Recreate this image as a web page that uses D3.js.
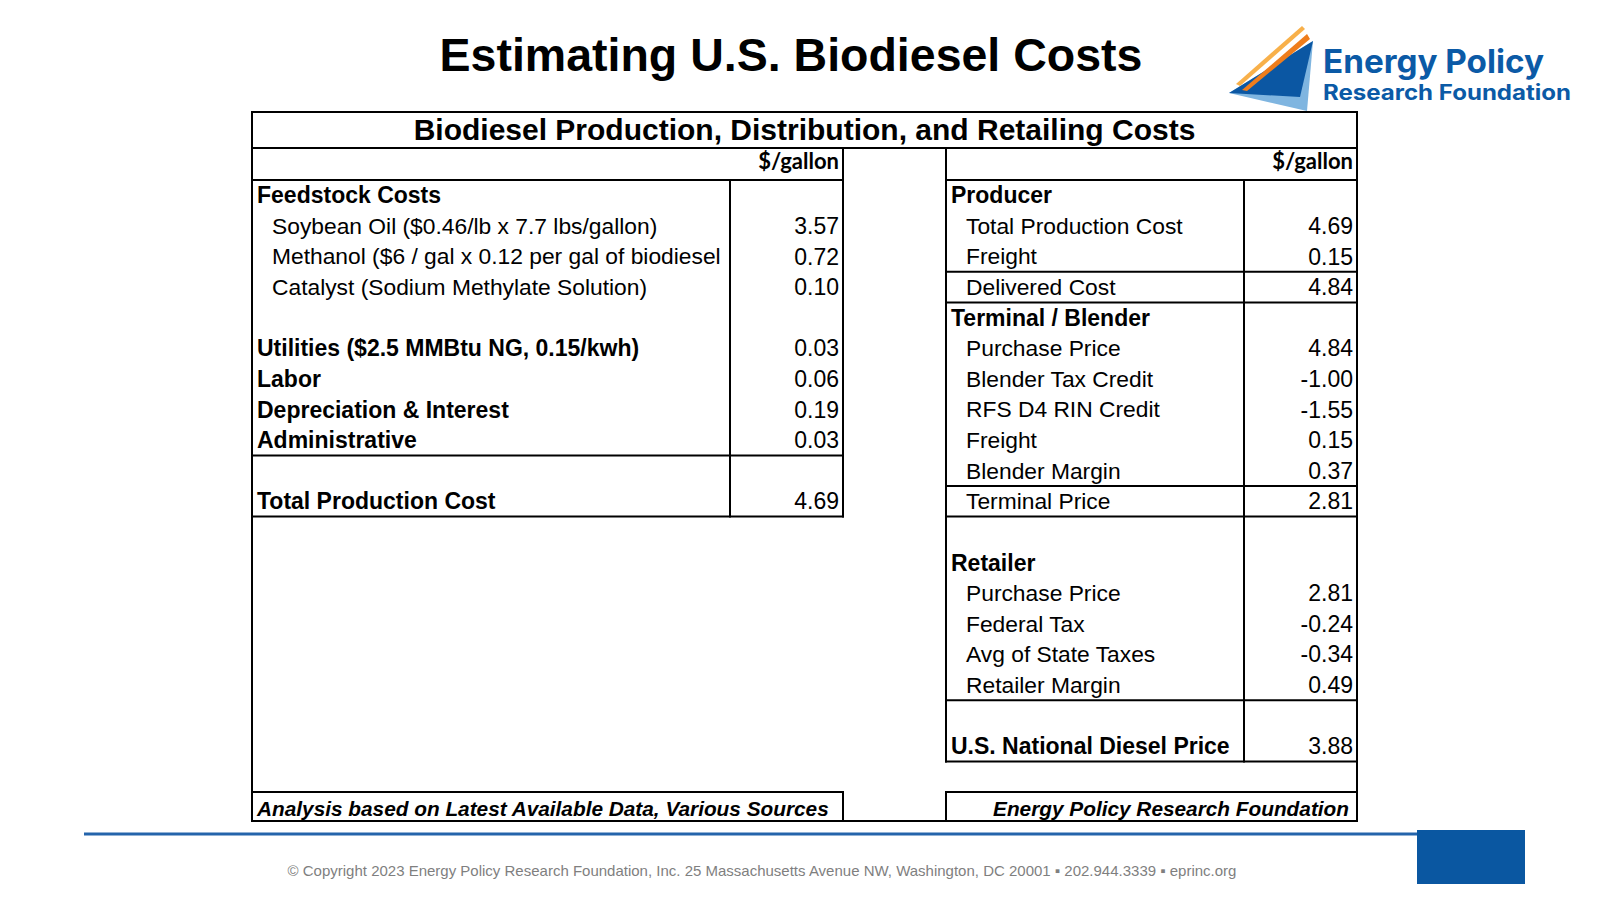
<!DOCTYPE html>
<html>
<head>
<meta charset="utf-8">
<script src="https://cdn.jsdelivr.net/npm/d3@7"></script>
<style>
  body { margin: 0; background: #fff; }
  text { font-family: "Liberation Sans", Arial, sans-serif; }
</style>
</head>
<body>
<script>
// canvas
var width = 1600;
var height = 900;

// ---- data ----
var chartTitle = "Estimating U.S. Biodiesel Costs";
var tableTitle = "Biodiesel Production, Distribution, and Retailing Costs";
var unitLabel = "$/gallon";

// left table: feedstock & production cost build-up (level 0 = bold heading, 1 = indented item)
var leftLabels = ["Feedstock Costs", "Soybean Oil ($0.46/lb x 7.7 lbs/gallon)",
  "Methanol ($6 / gal x 0.12 per gal of biodiesel", "Catalyst (Sodium Methylate Solution)", "",
  "Utilities ($2.5 MMBtu NG, 0.15/kwh)", "Labor", "Depreciation & Interest", "Administrative", "",
  "Total Production Cost"];
var leftValues = [null, 3.57, 0.72, 0.10, null, 0.03, 0.06, 0.19, 0.03, null, 4.69];
var leftLevels = [0, 1, 1, 1, 0, 0, 0, 0, 0, 0, 0];
var leftRules = [8, 10];          // rows followed by a rule

// right table: producer -> blender -> retailer
var rightLabels = ["Producer", "Total Production Cost", "Freight", "Delivered Cost",
  "Terminal / Blender", "Purchase Price", "Blender Tax Credit", "RFS D4 RIN Credit", "Freight",
  "Blender Margin", "Terminal Price", "", "Retailer", "Purchase Price", "Federal Tax",
  "Avg of State Taxes", "Retailer Margin", "", "U.S. National Diesel Price"];
var rightValues = [null, 4.69, 0.15, 4.84, null, 4.84, -1.00, -1.55, 0.15, 0.37, 2.81,
  null, null, 2.81, -0.24, -0.34, 0.49, null, 3.88];
var rightLevels = [0, 1, 1, 1, 0, 1, 1, 1, 1, 1, 1, 0, 0, 1, 1, 1, 1, 0, 0];
var rightRules = [2, 3, 9, 10, 16, 18];

var leftNote = "Analysis based on Latest Available Data, Various Sources";
var rightNote = "Energy Policy Research Foundation";
var footerText = "\u00a9 Copyright 2023 Energy Policy Research Foundation, Inc. 25 Massachusetts Avenue NW, Washington, DC 20001 \u25aa 202.944.3339 \u25aa eprinc.org";

// ---- layout ----
var tbl = {y0: 112, yHead: 148, yCols: 180, yNote: 792, y1: 821};
var leftCol = {x0: 252, sep: 730, x1: 843};
var rightCol = {x0: 946, sep: 1244, x1: 1357};
var rowH = 30.6;
var nRows = rightLabels.length;

var svg = d3.select("body")
  .append("svg")
  .attr("width", width)
  .attr("height", height);

// row scale shared by both tables
var yScale = d3.scaleBand()
  .domain(d3.range(nRows))
  .range([tbl.yCols, tbl.yCols + rowH * nRows]);

// title
svg.append("text")
  .attr("x", 791)
  .attr("y", 71)
  .attr("text-anchor", "middle")
  .style("font-size", "46.5px")
  .style("font-weight", "bold")
  .text(chartTitle);

// logo
var logo = svg.append("g");
logo.append("path").attr("d", "M1229,93 L1313,41 L1307,111 Z").attr("fill", "#7fb5e0");
logo.append("path").attr("d", "M1229,93 L1313,41 L1300,97 Z").attr("fill", "#0b57a3");
logo.append("path").attr("d", "M1236,84 L1302,26 L1305,29 L1240,86 Z").attr("fill", "#f8b04a");
logo.append("path").attr("d", "M1242,90 L1307,34 L1310,39 L1247,91 Z").attr("fill", "#ef7d1c");
logo.append("text")
  .attr("x", 1323).attr("y", 73)
  .attr("textLength", 221).attr("lengthAdjust", "spacingAndGlyphs")
  .style("font-family", "Inter, 'Open Sans', sans-serif")
  .style("font-size", "32px").style("font-weight", "bold")
  .attr("fill", "#0b5aa6")
  .text("Energy Policy");
logo.append("text")
  .attr("x", 1323).attr("y", 100)
  .attr("textLength", 248).attr("lengthAdjust", "spacingAndGlyphs")
  .style("font-family", "Inter, 'Open Sans', sans-serif")
  .style("font-size", "21px").style("font-weight", "bold")
  .attr("fill", "#0b5aa6")
  .text("Research Foundation");

// table frame
var leftEnd = yScale(leftLabels.length - 1) + yScale.bandwidth();
var rightEnd = yScale(nRows - 1) + yScale.bandwidth();
var rules = [
  [leftCol.x0, tbl.y0, rightCol.x1, tbl.y0],
  [leftCol.x0, tbl.yHead, rightCol.x1, tbl.yHead],
  [leftCol.x0, tbl.y0, leftCol.x0, tbl.y1],
  [rightCol.x1, tbl.y0, rightCol.x1, tbl.y1],
  [leftCol.x0, tbl.y1, rightCol.x1, tbl.y1],
  // left table
  [leftCol.x0, tbl.yCols, leftCol.x1, tbl.yCols],
  [leftCol.x1, tbl.yHead, leftCol.x1, leftEnd],
  [leftCol.sep, tbl.yCols, leftCol.sep, leftEnd],
  [leftCol.x0, tbl.yNote, leftCol.x1, tbl.yNote],
  [leftCol.x1, tbl.yNote, leftCol.x1, tbl.y1],
  // right table
  [rightCol.x0, tbl.yCols, rightCol.x1, tbl.yCols],
  [rightCol.x0, tbl.yHead, rightCol.x0, rightEnd],
  [rightCol.sep, tbl.yCols, rightCol.sep, rightEnd],
  [rightCol.x0, tbl.yNote, rightCol.x1, tbl.yNote],
  [rightCol.x0, tbl.yNote, rightCol.x0, tbl.y1]
];
leftRules.forEach(function (i) {
  var y = yScale(i) + yScale.bandwidth();
  rules.push([leftCol.x0, y, leftCol.x1, y]);
});
rightRules.forEach(function (i) {
  var y = yScale(i) + yScale.bandwidth();
  rules.push([rightCol.x0, y, rightCol.x1, y]);
});

svg.append("g").selectAll("line")
  .data(rules)
  .enter()
  .append("line")
  .attr("x1", d => d[0]).attr("y1", d => d[1])
  .attr("x2", d => d[2]).attr("y2", d => d[3])
  .attr("stroke", "#000")
  .attr("stroke-width", 2)
  .attr("stroke-linecap", "square");

// table title
svg.append("text")
  .attr("x", (leftCol.x0 + rightCol.x1) / 2)
  .attr("y", 140)
  .attr("text-anchor", "middle")
  .style("font-size", "30px")
  .style("font-weight", "bold")
  .text(tableTitle);

// unit labels
[leftCol, rightCol].forEach(function (c) {
  svg.append("text")
    .attr("x", c.x1 - 4)
    .attr("y", (tbl.yHead + tbl.yCols) / 2 - 3)
    .attr("dy", "0.35em")
    .attr("text-anchor", "end")
    .style("font-family", "Lato, 'Open Sans', sans-serif")
    .style("font-size", "22px")
    .style("font-weight", "bold")
    .text(unitLabel);
});

// rows
function drawRows(col, labels, values, levels) {
  var g = svg.append("g");
  var rows = labels.map(function (d, i) {
    return {label: d, value: values[i], level: levels[i], i: i};
  });

  g.selectAll(".lab")
    .data(rows)
    .enter()
    .append("text")
    .attr("class", "lab")
    .attr("x", d => col.x0 + (d.level === 0 ? 5 : 20))
    .attr("y", d => yScale(d.i) + yScale.bandwidth() / 2)
    .attr("dy", "0.35em")
    .style("font-size", d => d.level === 0 ? "23px" : "22.8px")
    .style("font-weight", d => d.level === 0 ? "bold" : "normal")
    .text(d => d.label);

  g.selectAll(".val")
    .data(rows.filter(d => d.value !== null))
    .enter()
    .append("text")
    .attr("class", "val")
    .attr("x", col.x1 - 4)
    .attr("y", d => yScale(d.i) + yScale.bandwidth() / 2)
    .attr("dy", "0.35em")
    .attr("text-anchor", "end")
    .style("font-size", "23px")
    .text(d => d.value.toFixed(2));
}
drawRows(leftCol, leftLabels, leftValues, leftLevels);
drawRows(rightCol, rightLabels, rightValues, rightLevels);

// notes
svg.append("text")
  .attr("x", leftCol.x0 + 5)
  .attr("y", (tbl.yNote + tbl.y1) / 2 + 2)
  .attr("dy", "0.35em")
  .style("font-size", "20.8px")
  .style("font-weight", "bold")
  .style("font-style", "italic")
  .text(leftNote);
svg.append("text")
  .attr("x", rightCol.x1 - 8)
  .attr("y", (tbl.yNote + tbl.y1) / 2 + 2)
  .attr("dy", "0.35em")
  .attr("text-anchor", "end")
  .style("font-size", "20.8px")
  .style("font-weight", "bold")
  .style("font-style", "italic")
  .text(rightNote);

// footer
svg.append("line")
  .attr("x1", 84).attr("y1", 834)
  .attr("x2", 1417).attr("y2", 834)
  .attr("stroke", "#2464ab")
  .attr("stroke-width", 3);
svg.append("rect")
  .attr("x", 1417).attr("y", 830)
  .attr("width", 108).attr("height", 54)
  .attr("fill", "#0a57a1");
svg.append("text")
  .attr("x", 762)
  .attr("y", 876)
  .attr("text-anchor", "middle")
  .style("font-size", "15px")
  .attr("fill", "#7f7f7f")
  .text(footerText);
</script>
</body>
</html>
